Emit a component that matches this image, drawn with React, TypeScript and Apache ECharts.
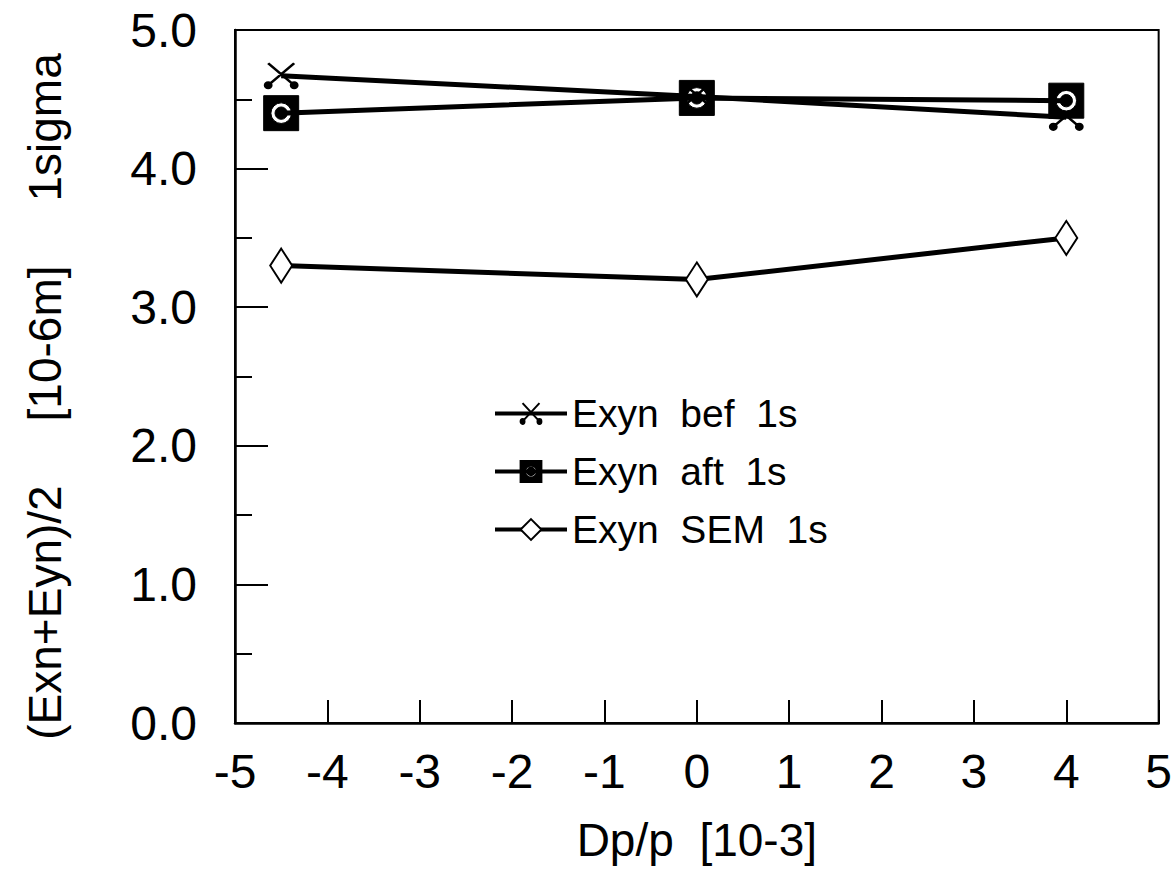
import React, { useEffect, useRef } from "react";
import * as echarts from "echarts";

const xValues = [-4.5, 0, 4];
const befValues = [4.67, 4.52, 4.37];
const aftValues = [4.4, 4.51, 4.49];
const semValues = [3.3, 3.2, 3.5];
const seriesNames = ["Exyn  bef  1s", "Exyn  aft  1s", "Exyn  SEM  1s"];
const xTitle = "Dp/p  [10-3]";
const yTitle = "(Exn+Eyn)/2     [10-6m]     1sigma";

const FONT = "'Liberation Sans', Arial, sans-serif";

const crossPath =
  "path://M0,0 L26,22 M26,0 L0,22 M3,22 A3,3 0 1,1 -3,22 A3,3 0 1,1 3,22 Z M29,22 A3,3 0 1,1 23,22 A3,3 0 1,1 29,22 Z";
const squarePath =
  "path://M0,0 L34,0 L34,34 L0,34 Z M27,17 A10,10 0 1,0 7,17 A10,10 0 1,0 27,17 Z M23,17 A6,6 0 1,1 11,17 A6,6 0 1,1 23,17 Z";

export default function App() {
  const ref = useRef<HTMLDivElement>(null);
  useEffect(() => {
    if (!ref.current) return;
    const chart = echarts.init(ref.current, null, { renderer: "svg" });
    const pair = (ys: number[]) => xValues.map((x, i) => [x, ys[i]]);
    chart.setOption({
      animation: false,
      backgroundColor: "#fff",
      grid: {
        left: 235,
        right: 10,
        top: 30,
        bottom: 156,
        show: true,
        borderColor: "#000",
        borderWidth: 2,
        backgroundColor: "transparent",
      },
      legend: {
        left: 488,
        top: 389,
        orient: "vertical",
        itemWidth: 72,
        itemHeight: 26,
        itemGap: 19,
        lineStyle: { width: 4, color: "#000" },
        textStyle: { fontSize: 39, fontFamily: FONT, color: "#000" },
        data: seriesNames,
      },
      xAxis: {
        type: "value",
        min: -5,
        max: 5,
        interval: 1,
        name: xTitle,
        nameLocation: "middle",
        nameGap: 94,
        nameTextStyle: { fontSize: 46, fontFamily: FONT, color: "#000" },
        axisLine: { show: true, onZero: false, lineStyle: { color: "#000", width: 2.5 } },
        axisTick: { show: true, inside: true, length: 23, lineStyle: { color: "#000", width: 2 } },
        axisLabel: { margin: 24, fontSize: 48, fontFamily: FONT, color: "#000" },
        splitLine: { show: false },
      },
      yAxis: {
        type: "value",
        min: 0,
        max: 5,
        interval: 1,
        name: yTitle,
        nameLocation: "middle",
        nameRotate: 90,
        nameGap: 167,
        nameTextStyle: { fontSize: 46, fontFamily: FONT, color: "#000", padding: [0, 40, 0, 0] },
        axisLine: { show: true, onZero: false, lineStyle: { color: "#000", width: 2.5 } },
        axisTick: { show: true, inside: true, length: 33, lineStyle: { color: "#000", width: 2 } },
        minorTick: { show: true, splitNumber: 2, length: 17, lineStyle: { color: "#000", width: 2 } },
        axisLabel: {
          margin: 38,
          fontSize: 48,
          fontFamily: FONT,
          color: "#000",
          formatter: (v: number) => v.toFixed(1),
        },
        splitLine: { show: false },
        minorSplitLine: { show: false },
      },
      series: [
        {
          name: seriesNames[0],
          type: "line",
          data: pair(befValues),
          symbol: crossPath,
          symbolSize: [32, 25],
          lineStyle: { color: "#000", width: 5 },
          itemStyle: { color: "#000", borderColor: "#000", borderWidth: 2.5 },
          z: 3,
        },
        {
          name: seriesNames[1],
          type: "line",
          data: pair(aftValues),
          symbol: squarePath,
          symbolSize: 35,
          lineStyle: { color: "#000", width: 5 },
          itemStyle: { color: "#000", borderColor: "#000", borderWidth: 1 },
          z: 4,
        },
        {
          name: seriesNames[2],
          type: "line",
          data: pair(semValues),
          symbol: "diamond",
          symbolSize: [22, 34],
          lineStyle: { color: "#000", width: 5 },
          itemStyle: { color: "#fff", borderColor: "#000", borderWidth: 2 },
          z: 3,
        },
      ],
    });
    return () => chart.dispose();
  }, []);
  return (
    <div
      ref={ref}
      style={{ position: "fixed", left: 0, top: 0, width: 1175, height: 879, background: "#fff" }}
    />
  );
}
